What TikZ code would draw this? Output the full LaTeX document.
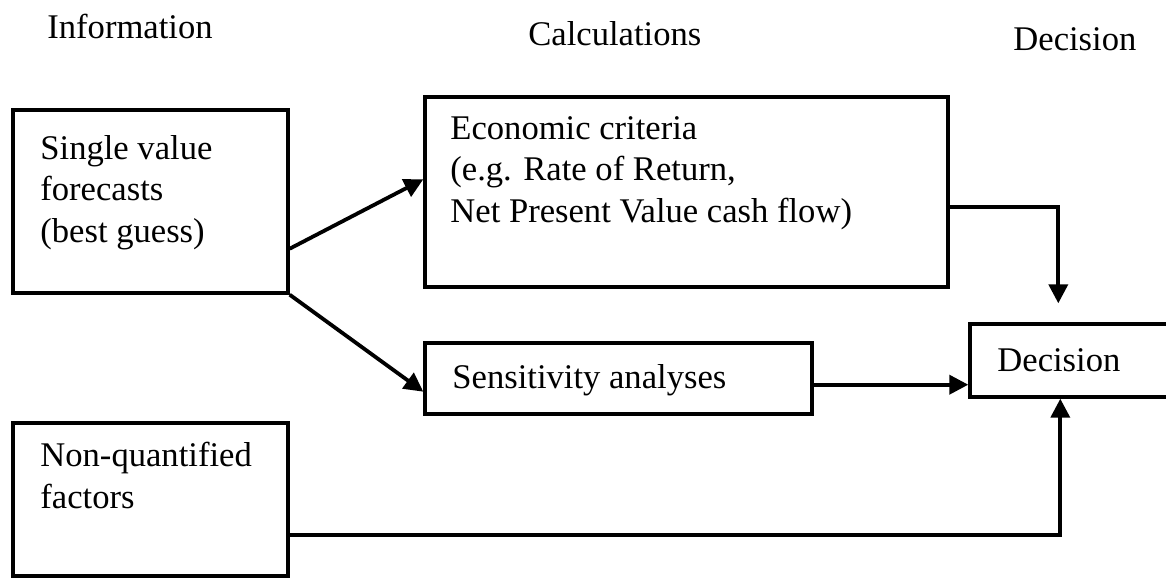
\documentclass[tikz,border=0pt]{standalone}
\usepackage{fontspec}
\setmainfont{Liberation Serif}
\usetikzlibrary{arrows.meta,calc}
\begin{document}
\begin{tikzpicture}[x=0.5pt,y=-0.5pt,
  box/.style={draw,line width=1.7pt,inner sep=0pt},
  txt/.style={anchor=base west,inner sep=0pt,align=left,font=\fontsize{17.3}{20.7}\selectfont},
  conn/.style={line width=1.9pt,-{Triangle[length=9.5pt,width=9.5pt]}}]
\useasboundingbox (0,0) rectangle (1166,578);
% headers
\node[txt] (hinfo) at (47,39) {Information};
\node[txt] (hcalc) at (528,45) {Calculations};
\node[txt] (hdec) at (1013,50) {Decision};
% boxes
\node[box,minimum width=137.5pt,minimum height=91.5pt] (b1) at (150.5,201.5) {};
\node[box,minimum width=261.5pt,minimum height=95pt] (econ) at (686.5,192) {};
\node[box,minimum width=193.5pt,minimum height=35.5pt] (sens) at (618.5,378.5) {};
\node[box,minimum width=99pt,minimum height=36.5pt] (dec) at (1069,360.5) {};
\node[box,minimum width=137.5pt,minimum height=76.5pt] (nq) at (150.5,499.5) {};
% texts (multi-line nodes: base = last line's baseline)
\node[txt] (t1) at (40,242) {Single value\\forecasts\\(best guess)};
\node[txt] (t2) at (450,222) {Economic criteria\\(e.g. Rate of Return,\\Net Present Value cash flow)};
\node[txt] (t3) at (452,388) {Sensitivity analyses};
\node[txt] (t4) at (997,371) {Decision};
\node[txt] (t5) at (40,508) {Non-quantified\\factors};
% connectors
\draw[conn] ($(b1.south east)+(0,-46)$) -- ($(econ.north west)+(0,84)$);
\draw[conn] (b1.south east) -- ($(sens.south west)+(0,-24)$);
\draw[conn] ($(sens.south east)+(0,-31)$) -- ($(dec.south west)+(0,-14)$);
\coordinate (e1) at ($(dec.north west)+(90,-19)$);
\draw[conn] ($(econ.north east)+(0,112)$) -| (e1);
\coordinate (n1) at ($(dec.south west)+(92,0)$);
\draw[conn] ($(nq.north east)+(0,114)$) -| (n1);
\end{tikzpicture}
\end{document}
